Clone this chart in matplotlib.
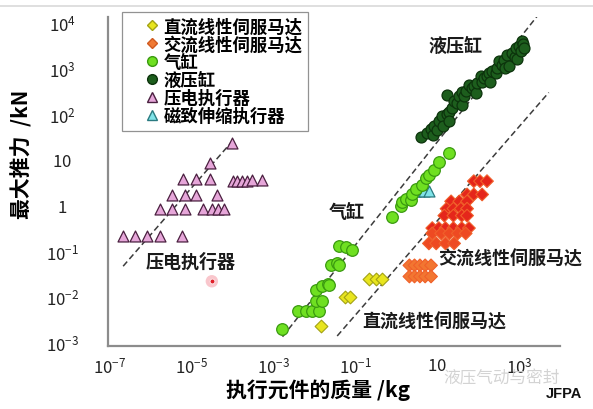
import numpy as np
import matplotlib
matplotlib.use("Agg")
import matplotlib.pyplot as plt
from matplotlib.lines import Line2D

plt.rcParams['font.family'] = ['Noto Sans CJK SC', 'DejaVu Sans']
plt.rcParams['mathtext.fontset'] = 'custom'
plt.rcParams['mathtext.rm'] = 'Liberation Sans'
plt.rcParams['mathtext.it'] = 'Liberation Sans:italic'
plt.rcParams['mathtext.bf'] = 'Liberation Sans:bold'

# ---- data: actuator mass (kg) vs. maximum force (kN) ----
piezo_mass = [2.1e-7, 4.1e-7, 7.9e-7, 1.7e-6, 5.8e-6,
              1.7e-6, 3.2e-6, 6.8e-6, 1.9e-5, 3.1e-5, 4.3e-5, 6.3e-5,
              3.2e-6, 6.8e-6, 1.3e-5, 4.1e-5,
              6.0e-6, 1.3e-5, 2.8e-5,
              1.0e-4, 1.3e-4, 1.7e-4, 2.2e-4, 2.9e-4, 5.1e-4,
              2.8e-5, 9.5e-5]
piezo_force = [0.21, 0.21, 0.21, 0.21, 0.21,
               0.85, 0.85, 0.85, 0.85, 0.85, 0.85, 0.85,
               1.7, 1.7, 1.7, 1.7,
               3.7, 3.7, 3.7,
               3.4, 3.4, 3.4, 3.4, 3.6, 3.6,
               8.3, 23]

magneto_mass = [2.8, 3.6, 4.8, 6.3]
magneto_force = [2.1, 2.1, 2.1, 2.1]

pneu_mass = [1.6e-3, 3.9e-3, 6.3e-3, 8.9e-3, 1.3e-2, 1.1e-2, 1.5e-2,
             1.1e-2, 1.5e-2, 2.1e-2, 2.3e-2, 2.6e-2, 3.5e-2, 4.1e-2,
             4.1e-2, 6.0e-2, 8.5e-2,
             0.79, 1.3, 1.4, 1.7, 2.3, 2.5, 3.1, 4.3, 5.4, 6.3, 8.5, 11, 19.5]
pneu_force = [2.0e-3, 5.0e-3, 5.0e-3, 5.0e-3, 5.0e-3, 8.3e-3, 8.3e-3,
              1.4e-2, 1.7e-2, 1.9e-2, 1.8e-2, 4.9e-2, 5.4e-2, 5.1e-2,
              0.13, 0.126, 0.105,
              0.57, 0.95, 1.2, 1.4, 1.3, 1.8, 2.3, 2.8, 3.9, 4.6, 5.9, 9.1, 14]

hyd_mass = [4.1, 5.8, 7.1, 7.9, 8.5, 10, 11, 13, 14, 17, 17, 20, 20, 23, 26, 31,
            35, 40, 41, 46, 50, 60, 71, 79, 89, 95, 117, 126, 141, 166, 190, 200,
            219, 275, 288, 324, 380, 427, 447, 513, 575, 676, 794, 851, 891, 1000,
            1122, 1175, 1259, 1318]
hyd_force = [32, 38, 48, 35, 56, 44, 72, 89, 56, 102, 257, 112, 71, 132, 190, 170,
             245, 158, 309, 245, 316, 427, 363, 417, 282, 468, 692, 513, 603, 661, 794, 501,
             891, 776, 1000, 1413, 1200, 1479, 1000, 1905, 1148, 2138, 1778, 2754, 1585, 3020,
             2344, 3890, 3311, 2754]

ac_mass = [79, 112, 166,
           54, 79, 126,
           22, 35, 54,
           17, 25, 38, 54,
           15, 25, 40, 54,
           7.6, 11, 16, 25, 40, 60,
           7.6, 12.6, 20, 32, 50,
           6.3, 9.5, 16, 26,
           2.1, 2.8, 3.8, 5.1, 7.1,
           2.1, 2.8, 3.8, 5.1, 7.1]
ac_force = [3.4, 3.4, 3.4,
            1.74, 1.74, 1.74,
            1.23, 1.23, 1.23,
            0.85, 0.85, 0.85, 0.85,
            0.60, 0.60, 0.60, 0.60,
            0.32, 0.32, 0.32, 0.32, 0.32, 0.32,
            0.245, 0.245, 0.245, 0.245, 0.245,
            0.148, 0.148, 0.148, 0.148,
            0.049, 0.049, 0.049, 0.049, 0.049,
            0.028, 0.028, 0.028, 0.028, 0.028]

dc_mass = [0.22, 0.32, 0.44, 0.056, 0.076, 0.0148]
dc_force = [0.025, 0.025, 0.025, 0.0102, 0.0102, 0.00234]

# guide lines of constant specific force: (mass pair, force pair)
guide_piezo = ([2.1e-7, 1.0e-4], [0.047, 26])
guide_pneu = ([1.66e-3, 2750], [1.35e-3, 13500])
guide_servo = ([0.036, 5370], [1.4e-3, 295])

pointer_mass = [3.1e-5]
pointer_force = [0.022]

x_ticks = [1e-7, 1e-5, 1e-3, 1e-1, 10, 1e3]
y_ticks = [1e-3, 1e-2, 1e-1, 1, 10, 1e2, 1e3, 1e4]


def decade_label(v):
    e = int(round(np.log10(v)))
    if e == 0:
        return r'$\mathregular{1}$'
    if e == 1:
        return r'$\mathregular{10}$'
    return r'$\mathregular{10^{%d}}$' % e


fig = plt.figure(figsize=(5.93, 4.10), dpi=100)
ax = fig.add_axes([0.182, 0.154, 0.762, 0.802])
ax.set_xscale('log')
ax.set_yscale('log')
ax.set_xlim(10 ** -7.05, 10 ** 4.0)
ax.set_ylim(10 ** -3.07, 10 ** 4.12)

# guide lines
for gx, gy in (guide_piezo, guide_pneu, guide_servo):
    ax.plot(gx, gy, color='#3c3c3c', lw=1.1, ls=(0, (4, 2.2)), zorder=1)

ax.scatter(piezo_mass, piezo_force, marker='^', s=62, c='#e6a6d9',
           edgecolors='#4a2040', linewidths=0.9, zorder=3)
ax.scatter(magneto_mass, magneto_force, marker='^', s=62, c='#7fe3e8',
           edgecolors='#2a7a80', linewidths=0.9, zorder=3)
ax.scatter(pneu_mass, pneu_force, marker='o', s=70, c='#6fe021',
           edgecolors='#3a9a10', linewidths=0.9, zorder=3)
ax.scatter(hyd_mass, hyd_force, marker='o', s=62, c='#1d5e1d',
           edgecolors='#0c330c', linewidths=0.9, zorder=4)
ac_f = np.asarray(ac_force)
ac_colors = np.where(ac_f > 0.28, '#e5261b', np.where(ac_f > 0.1, '#ee4a22', '#f27631'))
ax.scatter(ac_mass, ac_force, marker='D', s=42, c=ac_colors,
           edgecolors='#f0602a', linewidths=0.8, zorder=3)
ax.scatter(dc_mass, dc_force, marker='D', s=42, c='#e8e51e',
           edgecolors='#a3a214', linewidths=0.8, zorder=3)
ax.scatter(pointer_mass, pointer_force, marker='o', s=80, c='#f9c6cc',
           edgecolors='none', zorder=3)
ax.scatter(pointer_mass, pointer_force, marker='o', s=12, c='#e0202a',
           edgecolors='#ffffff', linewidths=0.5, zorder=3)

ax.set_xticks(x_ticks)
ax.set_xticklabels([decade_label(v) for v in x_ticks])
ax.set_yticks(y_ticks)
ax.set_yticklabels([decade_label(v) for v in y_ticks], ha='center')
ax.minorticks_off()
ax.tick_params(length=0, labelsize=12, colors='#222222')
ax.tick_params(axis='x', pad=8)
ax.tick_params(axis='y', pad=33)

for s in ('top', 'right'):
    ax.spines[s].set_visible(False)
for s in ('left', 'bottom'):
    ax.spines[s].set_color('#8c8c8c')
    ax.spines[s].set_linewidth(1.6)

ax.set_xlabel('执行元件的质量 /kg', fontsize=15, fontweight='bold')
ax.set_ylabel('最大推力  /kN', fontsize=15, fontweight='bold')
ax.xaxis.set_label_coords(0.465, -0.100)
ax.yaxis.set_label_coords(-0.166, 0.584)

txt = dict(fontsize=13, fontweight='bold', color='#1a1a1a', zorder=5,
           ha='center', va='center')
ax.text(10 ** 1.46, 10 ** 3.50, '液压缸', **txt)
ax.text(10 ** -1.20, 10 ** -0.13, '气缸', **txt)
ax.text(10 ** -5.02, 10 ** -1.23, '压电执行器', **txt)
ax.text(10 ** 2.78, 10 ** -1.16, '交流线性伺服马达', **txt)
ax.text(10 ** 0.93, 10 ** -2.52, '直流线性伺服马达', **txt)

handles = [
    Line2D([], [], ls='none', marker='D', ms=5.5, mfc='#e8e51e', mec='#a3a214'),
    Line2D([], [], ls='none', marker='D', ms=5.5, mfc='#f07a35', mec='#d05a20'),
    Line2D([], [], ls='none', marker='o', ms=7, mfc='#6fe021', mec='#3a9a10'),
    Line2D([], [], ls='none', marker='o', ms=7, mfc='#1d5e1d', mec='#0c330c'),
    Line2D([], [], ls='none', marker='^', ms=7, mfc='#e6a6d9', mec='#4a2040'),
    Line2D([], [], ls='none', marker='^', ms=7, mfc='#7fe3e8', mec='#2a7a80'),
]
labels = ['直流线性伺服马达', '交流线性伺服马达', '气缸', '液压缸', '压电执行器', '磁致伸缩执行器']
leg = ax.legend(handles, labels, loc='upper left', bbox_to_anchor=(0.031, 1.015),
                frameon=True, fancybox=False, borderpad=0.3, labelspacing=0.0,
                handletextpad=-0.8, handlelength=2.9, borderaxespad=0,
                prop={'size': 12.5, 'weight': 'bold'})
leg.get_frame().set_edgecolor('#777777')
leg.get_frame().set_linewidth(0.9)

fig.text(0.981, 0.022, 'JFPA', ha='right', va='bottom', fontsize=10.5,
         fontweight='bold', family=['Liberation Sans', 'DejaVu Sans'], color='#111111')
fig.text(0.845, 0.077, '液压气动与密封', ha='center', va='center', fontsize=12,
         color='#cfcfcf', alpha=0.9)

fig.add_artist(Line2D([0, 1], [0.982, 0.982], transform=fig.transFigure,
                      color='#d9d9d9', lw=1.2))

fig.savefig('out.png', dpi=100)
